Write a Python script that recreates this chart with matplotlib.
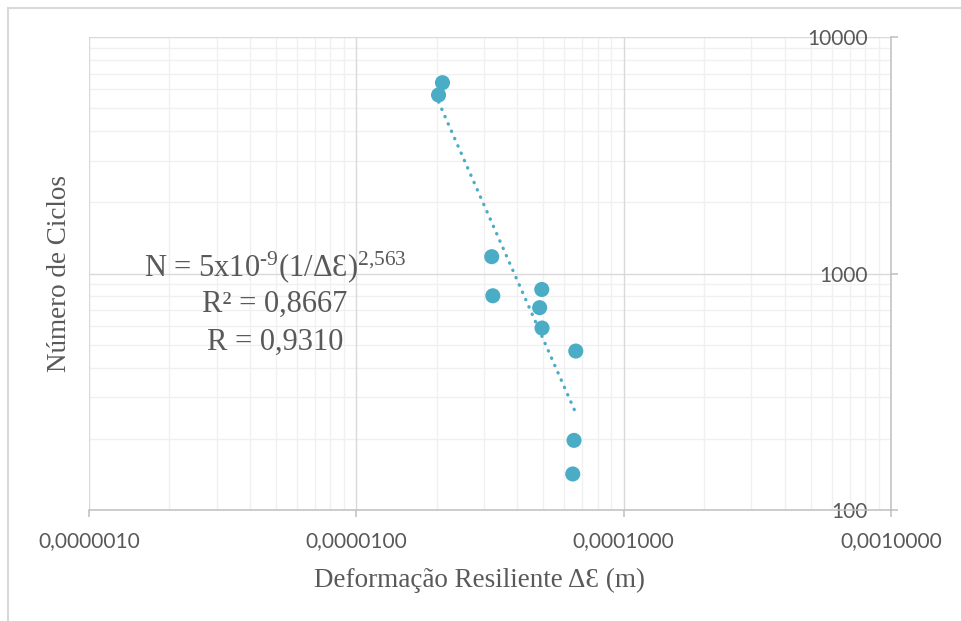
import matplotlib
matplotlib.use("Agg")
import matplotlib.pyplot as plt
import numpy as np
from matplotlib.lines import Line2D
from matplotlib.ticker import FixedLocator, FixedFormatter, NullFormatter

# Resilient strain (m) and number of load cycles
deformacao = [2.10e-5, 2.03e-5, 3.21e-5, 3.24e-5, 4.94e-5, 4.85e-5, 4.95e-5, 6.62e-5, 6.52e-5, 6.45e-5]
ciclos = [6410, 5685, 1178, 805, 856, 717, 588, 470, 197, 142]

# Power-law fit N = a * (1/dE)^b
coef_a = 5e-9
coef_b = 2.563

x_ticks = [1e-6, 1e-5, 1e-4, 1e-3]
x_tick_labels = ["0,0000010", "0,0000100", "0,0001000", "0,0010000"]
y_ticks = [100, 1000, 10000]
y_tick_labels = ["100", "1000", "10000"]

teal = "#4BACC6"
text_gray = "#595959"
major_grid = "#D9D9D9"
minor_grid = "#F0F0F0"
axis_gray = "#BFBFBF"

fig = plt.figure(figsize=(9.61, 6.21), dpi=100)
fig.patch.set_facecolor("white")

W, H = 961, 621
left, right, top, bottom = 89, 891, 37, 510
ax = fig.add_axes([left / W, 1 - bottom / H, (right - left) / W, (bottom - top) / H])
ax.set_xscale("log")
ax.set_yscale("log")
ax.set_xlim(1e-6, 1e-3)
ax.set_ylim(100, 10000)

# grid: minor lines first, then majors
minor_x = [m * 10.0 ** e for e in (-6, -5, -4) for m in range(2, 10)]
minor_y = [m * 10.0 ** e for e in (2, 3) for m in range(2, 10)]
for v in minor_x:
    ax.axvline(v, color=minor_grid, lw=1.0, zorder=0)
for v in minor_y:
    ax.axhline(v, color=minor_grid, lw=1.0, zorder=0)
for v in x_ticks[:-1]:
    ax.axvline(v, color=major_grid, lw=1.0, zorder=0.5)
for v in y_ticks[1:]:
    ax.axhline(v, color=major_grid, lw=1.0, zorder=0.5)

for s in ("left", "top"):
    ax.spines[s].set_visible(False)
ax.spines["bottom"].set_color(axis_gray)
ax.spines["bottom"].set_linewidth(1.1)
ax.spines["right"].set_color(axis_gray)
ax.spines["right"].set_linewidth(1.1)

# trend line from the stated equation
xt = np.geomspace(min(deformacao), max(deformacao), 200)
yt = coef_a * (1.0 / xt) ** coef_b
ax.plot(xt, yt, color=teal, lw=2.4, ls=(0, (0.1, 2.3)), dash_capstyle="round", zorder=2)

ax.scatter(deformacao, ciclos, s=118, color=teal, edgecolors="none", zorder=3)

# x axis ticks
ax.xaxis.set_major_locator(FixedLocator(x_ticks))
ax.xaxis.set_major_formatter(FixedFormatter(x_tick_labels))
ax.xaxis.set_minor_formatter(NullFormatter())
ax.tick_params(axis="x", which="major", direction="out", length=5, width=1.1,
               color=axis_gray, labelsize=15, labelcolor=text_gray, pad=10)
ax.tick_params(axis="x", which="minor", length=0)

# y axis on the right, labels inside the plot
ax.yaxis.set_major_locator(FixedLocator(y_ticks))
ax.yaxis.set_major_formatter(FixedFormatter(y_tick_labels))
ax.yaxis.set_minor_formatter(NullFormatter())
ax.tick_params(axis="y", which="major", left=False, right=True, labelleft=False,
               labelright=True, direction="out", length=5, width=1.1,
               color=axis_gray, labelsize=15, labelcolor=text_gray, pad=-21.5)
ax.tick_params(axis="y", which="minor", left=False, right=False, length=0)
for t in ax.yaxis.get_major_ticks():
    t.label2.set_horizontalalignment("right")

for lab in ax.get_xticklabels() + ax.get_yticklabels():
    lab.set_fontfamily(["Lato", "DejaVu Sans"])

serif = ["Liberation Serif", "DejaVu Serif"]
plt.rcParams["mathtext.fontset"] = "custom"
plt.rcParams["mathtext.rm"] = "Liberation Serif"
plt.rcParams["mathtext.it"] = "Liberation Serif"

ax.set_xlabel("Deformação Resiliente ΔƐ (m)", fontsize=19.5, color=text_gray, family=serif)
ax.xaxis.set_label_coords((480 - left) / (right - left), -(580 - bottom) / (bottom - top))
ax.xaxis.label.set_verticalalignment("center")

ax.set_ylabel("Número de Ciclos", fontsize=19.5, color=text_gray, family=serif)
ax.yaxis.set_label_position("left")
ax.yaxis.set_label_coords((60 - left) / (right - left), 0.5)
ax.yaxis.label.set_verticalalignment("center")

# equation block
eq_x = 275
eq_lines = [
    (267, "N = 5x10$^{\u2010 9}$(1/ΔƐ)$^{2{,}563}$"),
    (304, "R² = 0,8667"),
    (342, "R = 0,9310"),
]
for yy, txt in eq_lines:
    fig.text(eq_x / W, 1 - yy / H, txt, fontsize=22, color=text_gray, family=serif,
             ha="center", va="center")

# chart frame
fig.add_artist(Line2D([7.5 / W, 7.5 / W], [0, 1 - 8 / H], color=major_grid, lw=1.5,
                      transform=fig.transFigure))
fig.add_artist(Line2D([7.5 / W, 1], [1 - 8 / H, 1 - 8 / H], color=major_grid, lw=1.5,
                      transform=fig.transFigure))

fig.savefig("out.png", dpi=100, facecolor="white")
